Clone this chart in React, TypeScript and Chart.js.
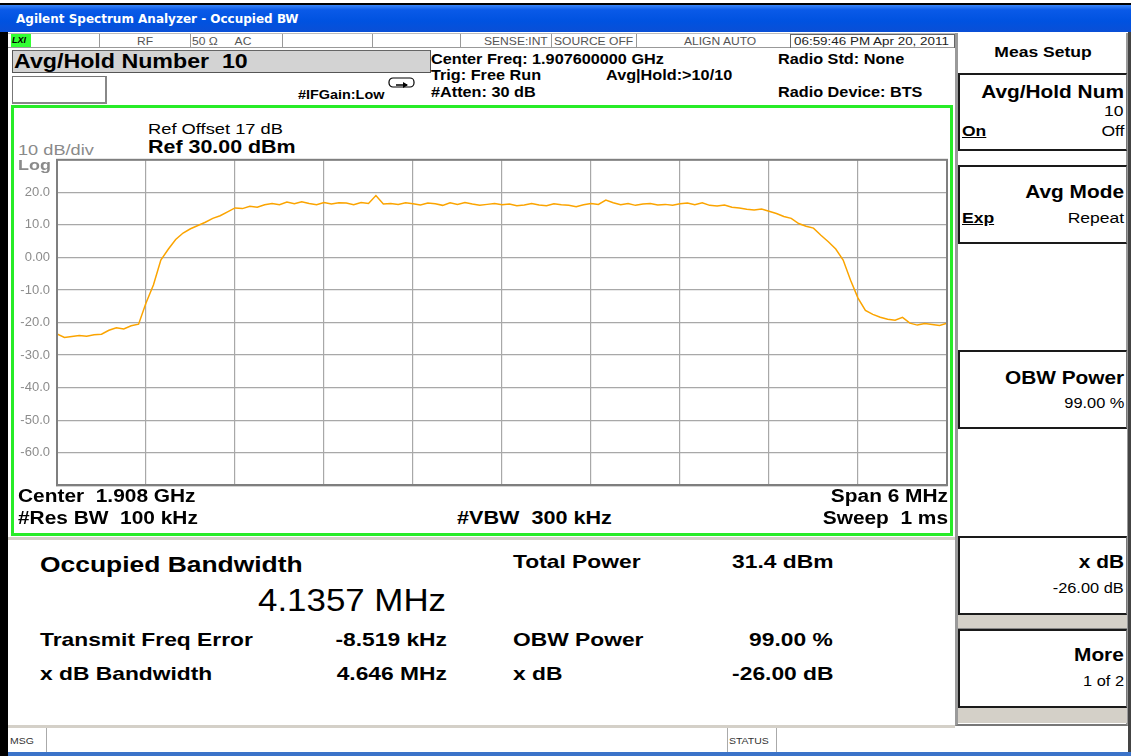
import React, { useEffect, useRef } from "react";
import { Chart, registerables } from "chart.js";
Chart.register(...registerables);

// Sweep: span 6 MHz around 1.908 GHz, 121 trace points
const sweepStartKHz = -3000;
const sweepStepKHz = 50;
const traceDbm = [
  -23.5, -24.6, -24.3, -24.0, -24.2, -23.8, -23.6, -22.4, -21.6, -22.0,
  -21.0, -20.5, -14.0, -8.5, -0.8, 2.5, 5.5, 7.5, 8.8, 9.8,
  10.8, 12.0, 12.8, 14.0, 15.2, 15.0, 15.7, 15.4, 16.2, 16.6,
  16.2, 17.0, 16.5, 17.1, 16.6, 16.2, 16.9, 16.4, 16.8, 16.7,
  16.2, 16.9, 16.6, 19.0, 16.4, 16.6, 16.3, 16.8, 16.5, 16.1,
  16.7, 16.5, 16.0, 16.8, 16.3, 16.9, 16.4, 16.0, 16.3, 16.6,
  16.2, 16.4, 15.9, 16.1, 16.6, 16.1, 15.9, 16.5, 16.2, 16.0,
  15.6, 16.2, 16.6, 16.3, 17.6, 16.8, 16.2, 16.6, 16.0, 16.4,
  16.6, 16.1, 16.3, 16.0, 16.5, 16.7, 16.2, 16.8, 16.0, 15.8,
  16.1, 15.4, 15.2, 14.8, 14.6, 14.9, 14.2, 13.5, 12.6, 12.0,
  10.4, 9.6, 9.0, 6.8, 4.8, 2.6, -0.8, -7.0, -12.5, -16.3,
  -17.5, -18.4, -19.0, -19.3, -18.4, -20.2, -20.8, -20.3, -20.6, -20.9,
  -20.2,
];
const refLevelDbm = 30;
const bottomLevelDbm = -70;
const dbPerDiv = 10;
const spanKHz = 6000;
const freqDivKHz = 600;

const W = 1131;
const FONT = '"Liberation Sans", Arial, sans-serif';

type TP = {
  x?: number; r?: number; c?: number; y: number; s: number; b?: boolean; sx?: number;
  color?: string; children: React.ReactNode; ff?: string; ls?: number; u?: boolean; i?: boolean;
};
function T({ x, r, c, y, s, b, sx = 1, color, children, ff, ls, u, i }: TP) {
  const st: React.CSSProperties = {
    position: "absolute", top: y, fontSize: s, fontWeight: b ? 700 : 400,
    color: color || "#000", lineHeight: 1, whiteSpace: "pre", fontFamily: ff || FONT,
    transform: `translateY(-50%) scaleX(${sx})`, transformOrigin: "left center",
    letterSpacing: ls ? ls : undefined,
    textDecoration: u ? "underline" : undefined, fontStyle: i ? "italic" : undefined,
  };
  if (c !== undefined) { st.left = c; st.transform = `translate(-50%,-50%) scaleX(${sx})`; st.transformOrigin = "center center"; }
  else if (r !== undefined) { st.right = W - r; st.transformOrigin = "right center"; }
  else st.left = x;
  return <div style={st}>{children}</div>;
}

function Box({ x, y, w, h, style }: { x: number; y: number; w: number; h: number; style?: React.CSSProperties }) {
  return <div style={{ position: "absolute", left: x, top: y, width: w, height: h, boxSizing: "border-box", ...style }} />;
}

function SpectrumChart() {
  const ref = useRef<HTMLCanvasElement>(null);
  useEffect(() => {
    if (!ref.current) return;
    const pts = traceDbm.map((v, i) => ({ x: sweepStartKHz + i * sweepStepKHz, y: v }));
    const chart = new Chart(ref.current, {
      type: "line",
      data: {
        datasets: [{
          data: pts, borderColor: "#fba400", borderWidth: 1.5, pointRadius: 0,
          tension: 0, fill: false,
        }],
      },
      options: {
        animation: false, responsive: false, maintainAspectRatio: false,
        layout: { padding: { top: 5, right: 3, bottom: 5, left: 0 } },
        plugins: { legend: { display: false }, tooltip: { enabled: false } },
        scales: {
          x: {
            type: "linear", min: -spanKHz / 2, max: spanKHz / 2,
            ticks: { display: false, stepSize: freqDivKHz },
            grid: { color: "#a8a8a8", lineWidth: 1.2, drawTicks: false },
            border: { color: "#7f7f7f", width: 2 },
            afterFit: (s: any) => { s.height = 0; },
          },
          y: {
            min: bottomLevelDbm, max: refLevelDbm,
            ticks: {
              stepSize: dbPerDiv, color: "#8c8c8c", padding: 7,
              font: { family: FONT, size: 13 },
              callback: (v: any) => (v === refLevelDbm || v === bottomLevelDbm ? "" : v === 0 ? "0.00" : Number(v).toFixed(1)),
            },
            grid: { color: "#a8a8a8", lineWidth: 1.2, drawTicks: false },
            border: { color: "#7f7f7f", width: 2 },
            afterFit: (s: any) => { s.width = 43; },
          },
        },
      },
      plugins: [{
        id: "frame",
        afterDraw: (c: any) => {
          const { ctx, chartArea: a } = c;
          ctx.save();
          ctx.strokeStyle = "#7f7f7f";
          ctx.lineWidth = 2;
          ctx.strokeRect(a.left, a.top, a.right - a.left, a.bottom - a.top);
          ctx.restore();
        },
      }],
    } as any);
    return () => chart.destroy();
  }, []);
  return (
    <div style={{ position: "absolute", left: 14, top: 145, width: 936, height: 355 }}>
      <canvas ref={ref} width={936} height={355} style={{ width: 936, height: 355 }} />
    </div>
  );
}

const statusCells = [
  { x: 99, text: "RF", tx: 137 },
  { x: 190, text: "50 Ω     AC", tx: 192 },
  { x: 282, text: "", tx: 0 },
  { x: 372, text: "", tx: 0 },
  { x: 460, text: "SENSE:INT", tx: 484 },
  { x: 551, text: "SOURCE OFF", tx: 554 },
  { x: 636, text: "ALIGN AUTO", tx: 684 },
];

export default function App() {
  useEffect(() => { document.body.style.margin = "0"; }, []);
  const beige = "#d4d0c8";
  const softBox = (y: number, h: number) => (
    <Box x={958} y={y} w={169} h={h} style={{ borderTop: "2px solid #1a1a1a", borderLeft: "2px solid #1a1a1a", borderBottom: "2px solid #1a1a1a", borderRight: "1px solid #777", background: "#fff" }} />
  );
  const SK = 1.19; // soft-key title stretch
  const SV = 1.25; // soft-key value stretch
  const RS = 1.2; // result stretch
  const BS = 1.16; // annotation stretch
  return (
    <div style={{ position: "fixed", left: 0, top: 0, width: W, height: 756, background: "#fff", overflow: "hidden", fontFamily: FONT }}>
      {/* window frame */}
      <Box x={0} y={3} w={W} h={3} style={{ background: "#000" }} />
      <Box x={0} y={5} w={W} h={27} style={{ background: "linear-gradient(#3b86f7 0%, #0a5ae8 18%, #0052e0 60%, #0a4fd6 100%)" }} />
      <T x={16} y={19} s={12} b color="#fff" ff='"DejaVu Sans", Verdana, sans-serif'>Agilent Spectrum Analyzer - Occupied BW</T>
      <Box x={0} y={32} w={8} h={724} style={{ background: "#000" }} />
      <Box x={1128} y={32} w={3} h={724} style={{ background: "#444" }} />

      {/* status row */}
      <Box x={8} y={33} w={947} h={15} style={{ background: "#fff", borderBottom: "1px solid #999", borderTop: "1px solid #bbb" }} />
      <Box x={11} y={34} w={20} h={13} style={{ background: "#33ff33" }} />
      <T x={12} y={40} s={9} b i>LXI</T>
      {statusCells.map((c, k) => (
        <React.Fragment key={k}>
          <Box x={c.x} y={34} w={1} h={14} style={{ background: "#999" }} />
          {c.text ? <T x={c.tx} y={41} s={10.5} sx={1.15} color="#555">{c.text}</T> : null}
        </React.Fragment>
      ))}
      <Box x={790} y={34} w={165} h={14} style={{ border: "1px solid #666", borderBottom: "none" }} />
      <T x={794} y={41} s={11} sx={1.22} color="#222">06:59:46 PM Apr 20, 2011</T>

      {/* row 2 */}
      <Box x={12} y={50} w={419} h={23} style={{ background: "#d3d3d3", border: "1px solid #555", borderTopColor: "#666" }} />
      <T x={14} y={61} s={20} b sx={1.16}>Avg/Hold Number  10</T>
      <Box x={12} y={76} w={95} h={28} style={{ background: "#fff", border: "1px solid #777", borderRight: "2px solid #888", borderBottom: "2px solid #888" }} />
      <T x={298} y={95} s={12} b sx={1.2}>#IFGain:Low</T>
      <svg style={{ position: "absolute", left: 388, top: 77 }} width={28} height={12}>
        <rect x={1} y={1} width={25} height={9} rx={4} ry={4} fill="none" stroke="#000" strokeWidth={1.2} />
        <path d="M8 8 L19 8" stroke="#000" strokeWidth={1.5} />
        <path d="M15 5 L20 8 L15 11 Z" fill="#000" />
      </svg>
      <T x={431} y={59} s={14} b sx={BS}>Center Freq: 1.907600000 GHz</T>
      <T x={431} y={75} s={14} b sx={BS}>Trig: Free Run</T>
      <T x={606} y={75} s={14} b sx={BS}>Avg|Hold:&gt;10/10</T>
      <T x={431} y={92} s={14} b sx={BS}>#Atten: 30 dB</T>
      <T x={778} y={59} s={14} b sx={BS}>Radio Std: None</T>
      <T x={778} y={92} s={14} b sx={BS}>Radio Device: BTS</T>

      {/* graticule frame */}
      <Box x={11} y={105} w={942} h={431} style={{ border: "3px solid #28ec28", background: "#fff" }} />
      <T x={148} y={128} s={15} sx={1.22}>Ref Offset 17 dB</T>
      <T x={148} y={147} s={18} b sx={1.19}>Ref 30.00 dBm</T>
      <T x={18} y={150} s={14} sx={1.3} color="#8a8a8a">10 dB/div</T>
      <SpectrumChart />
      <T x={18} y={165} s={14} b sx={1.28} color="#8a8a8a">Log</T>
      <T x={18} y={496} s={18} b sx={BS}>Center  1.908 GHz</T>
      <T x={18} y={518} s={18} b sx={BS}>#Res BW  100 kHz</T>
      <T x={457} y={518} s={18} b sx={1.2}>#VBW  300 kHz</T>
      <T r={948} y={496} s={18} b sx={BS}>Span 6 MHz</T>
      <T r={948} y={518} s={18} b sx={BS}>Sweep  1 ms</T>

      {/* results */}
      <Box x={8} y={537} w={947} h={3} style={{ background: beige }} />
      <T x={40} y={565} s={22} b sx={RS}>Occupied Bandwidth</T>
      <T x={258} y={600} s={32} sx={1.09}>4.1357 MHz</T>
      <T x={40} y={639} s={19} b sx={RS}>Transmit Freq Error</T>
      <T r={447} y={639} s={19} b sx={RS}>-8.519 kHz</T>
      <T x={40} y={673} s={19} b sx={RS}>x dB Bandwidth</T>
      <T r={447} y={673} s={19} b sx={RS}>4.646 MHz</T>
      <T x={513} y={561} s={19} b sx={RS}>Total Power</T>
      <T r={833} y={561} s={19} b sx={RS}>31.4 dBm</T>
      <T x={513} y={639} s={19} b sx={RS}>OBW Power</T>
      <T r={833} y={639} s={19} b sx={RS}>99.00 %</T>
      <T x={513} y={673} s={19} b sx={RS}>x dB</T>
      <T r={833} y={673} s={19} b sx={RS}>-26.00 dB</T>
      <Box x={8} y={725} w={947} h={3} style={{ background: beige }} />

      {/* right soft-key panel */}
      <Box x={955} y={33} w={173} h={693} style={{ background: "#fff", borderLeft: "3px solid #9a9a9a", borderRight: "2px solid #9a9a9a", borderBottom: "2px solid #777" }} />
      <T c={1043} y={52} s={15.5} b sx={1.13}>Meas Setup</T>
      {softBox(73, 78)}
      <T r={1124} y={93} s={17.5} b sx={SK}>Avg/Hold Num</T>
      <T r={1124} y={111} s={14} sx={SV}>10</T>
      <T x={962} y={131} s={14} u b sx={SV}>On</T>
      <T r={1124} y={131} s={14} sx={SV}>Off</T>
      {softBox(165, 79)}
      <T r={1124} y={193} s={17.5} b sx={SK}>Avg Mode</T>
      <T x={962} y={218} s={14} u b sx={SV}>Exp</T>
      <T r={1124} y={218} s={14} sx={SV}>Repeat</T>
      {softBox(350, 79)}
      <T r={1124} y={379} s={17.5} b sx={SK}>OBW Power</T>
      <T r={1124} y={403} s={14} sx={1.17}>99.00 %</T>
      <Box x={958} y={429} w={169} h={107} style={{ background: "#fff" }} />
      {softBox(536, 79)}
      <T r={1124} y={563} s={17.5} b sx={SK}>x dB</T>
      <T r={1124} y={588} s={14} sx={1.17}>-26.00 dB</T>
      <Box x={958} y={615} w={169} h={14} style={{ background: beige, borderBottom: "1px solid #888" }} />
      {softBox(629, 79)}
      <T r={1124} y={656} s={17.5} b sx={SK}>More</T>
      <T r={1124} y={681} s={14} sx={1.17}>1 of 2</T>
      <Box x={958} y={708} w={169} h={15} style={{ background: beige }} />

      {/* bottom bar */}
      <Box x={8} y={728} w={1120} h={24} style={{ background: "#fff" }} />
      <T x={10} y={741} s={9.5} sx={1.1} color="#333">MSG</T>
      <Box x={46} y={728} w={1} h={24} style={{ background: "#aaa" }} />
      <Box x={727} y={728} w={1} h={24} style={{ background: "#aaa" }} />
      <T x={729} y={741} s={9.5} sx={1.1} color="#333">STATUS</T>
      <Box x={776} y={728} w={1} h={24} style={{ background: "#aaa" }} />
      <Box x={8} y={752} w={1123} h={4} style={{ background: "#3b73c9" }} />
    </div>
  );
}
